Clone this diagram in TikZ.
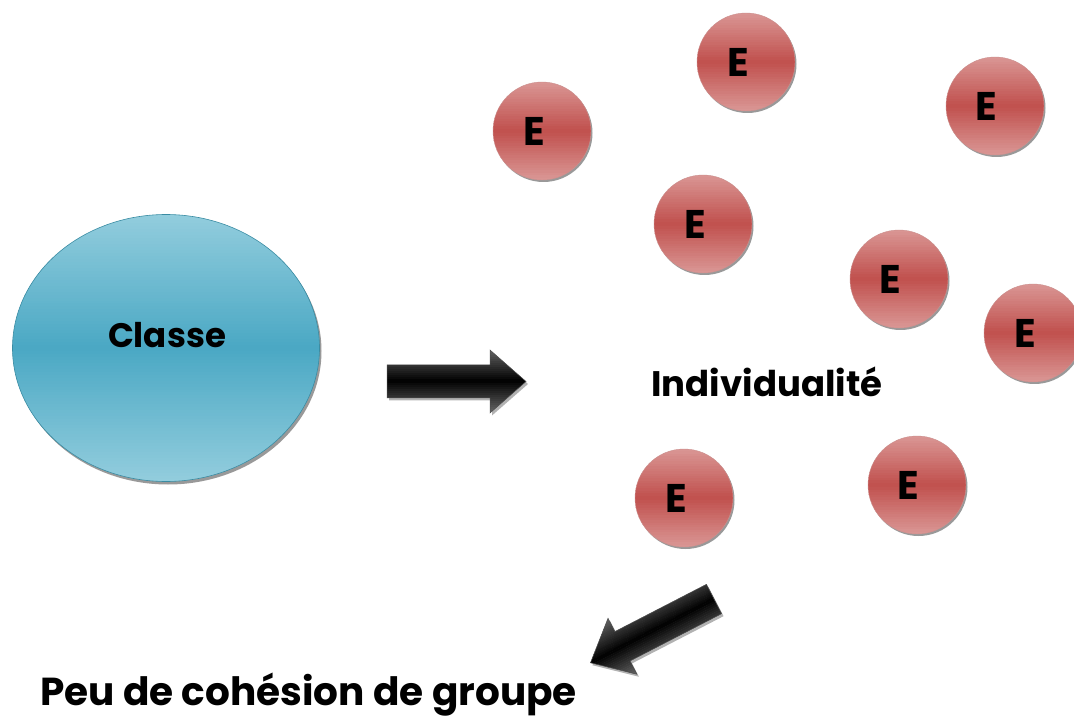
\documentclass[tikz,border=0pt]{standalone}
\usepackage{fontspec}
\setmainfont{Poppins}
\usetikzlibrary{shapes.geometric}
\definecolor{tealL}{HTML}{93CDDD}
\definecolor{tealM}{HTML}{4AA8C4}
\definecolor{tealB}{HTML}{3A8CA3}
\definecolor{redL}{HTML}{DA9795}
\definecolor{redM}{HTML}{C0504D}
\definecolor{redB}{HTML}{A84643}
\definecolor{arrowL}{HTML}{666666}
% horizontal stripes: x0, x1, y0, height, light colour, mid colour, count
\newcommand\vstripes[7]{%
  \pgfmathsetmacro\sh{#4/#7}%
  \foreach \k in {1,...,#7}{%
    \pgfmathsetmacro\sa{#3+(\k-1)*\sh}%
    \pgfmathsetmacro\sb{\sa+\sh+0.5}%
    \pgfmathsetmacro\pp{100*(1-abs((2*\k-1)/#7-1))}%
    \fill[#6!\pp!#5] (#1,\sa) rectangle (#2,\sb);
  }}
\newcommand\arrowpoly{(0,16.5) -- (103,16.5) -- (103,31.5) -- (139,0) -- (103,-31.5) -- (103,-16.5) -- (0,-16.5) -- cycle}
\newcommand\bigarrowdraw[2]{%
  \begin{scope}[shift={(2,-2.5)}]\begin{scope}[shift={#1}, rotate=#2]
    \fill[black, opacity=0.3] \arrowpoly;
  \end{scope}\end{scope}
  \begin{scope}[shift={#1}, rotate=#2]
    \clip \arrowpoly;
    \foreach \k in {1,...,32}{%
      \pgfmathsetmacro\sa{-32+(\k-1)*2}%
      \pgfmathsetmacro\dd{abs((2*\k-1)/32-1)}%
      \pgfmathsetmacro\pp{100*(1-\dd)}%
      \fill[black!\pp!arrowL] (-1,\sa) rectangle (141,\sa+2.4);
    }
  \end{scope}
  \begin{scope}[shift={#1}, rotate=#2]
    \draw[arrowstroke] \arrowpoly;
  \end{scope}}
% E circle: name, x, y, E offset
\newcommand\ecircle[4]{%
  \fill[black, opacity=0.4] (#2+1.5,#3-2) circle (49);
  \begin{scope}
    \clip (#2,#3) circle (49);
    \vstripes{#2-50}{#2+50}{#3-49}{98}{redL}{redM}{40}
  \end{scope}
  \node[ebox, label={[etext, xshift=#4]center:E}] (#1) at (#2,#3) {};}
\tikzset{
  classbox/.style={ellipse, minimum width=307pt, minimum height=267pt, inner sep=0pt,
    draw=tealB, line width=0.6pt},
  ebox/.style={circle, minimum size=98pt, inner sep=0pt, draw=redB!60, line width=0.4pt},
  etext/.style={font=\fontsize{40}{40}\selectfont\bfseries, text=black, inner sep=0pt},
  lbl/.style={font=\fontsize{34}{34}\selectfont\bfseries, text=black, inner sep=0pt},
  arrowstroke/.style={draw=black!70, line width=0.5pt},
}
\begin{document}
\begin{tikzpicture}[x=1pt, y=1pt]
\useasboundingbox (0,0) rectangle (1074,724);
% Classe
\fill[black, opacity=0.4] (168,373) ellipse [x radius=153.5, y radius=133.5];
\begin{scope}
  \clip (166,376) ellipse [x radius=153.5, y radius=133.5];
  \vstripes{10}{322}{242.5}{267}{tealL}{tealM}{90}
\end{scope}
\node[classbox] (classe) at (166,376) {};
\node[lbl, anchor=base] (classetxt) at (167,376) {Classe};
% right arrow
\bigarrowdraw{(387,342.5)}{0}
% circles
\ecircle{e1}{542}{593}{-8pt}
\ecircle{e2}{746}{662}{-8pt}
\ecircle{e3}{995}{618}{-9pt}
\ecircle{e4}{703}{500}{-8pt}
\ecircle{e5}{899}{445}{-9pt}
\ecircle{e6}{1033}{391}{-8pt}
\ecircle{e7}{684}{226}{-8pt}
\ecircle{e8}{917}{239}{-9pt}
% Individualite
\node[lbl, anchor=base, font=\fontsize{35.5}{36}\selectfont\bfseries] (indiv) at (767,327) {Individualité};
% diagonal arrow
\bigarrowdraw{(714,125)}{207.3}
% bottom text
\node[lbl, anchor=base west, font=\fontsize{39}{40}\selectfont\bfseries] (peu) at (40,19) {Peu de cohésion de groupe};
\end{tikzpicture}
\end{document}
